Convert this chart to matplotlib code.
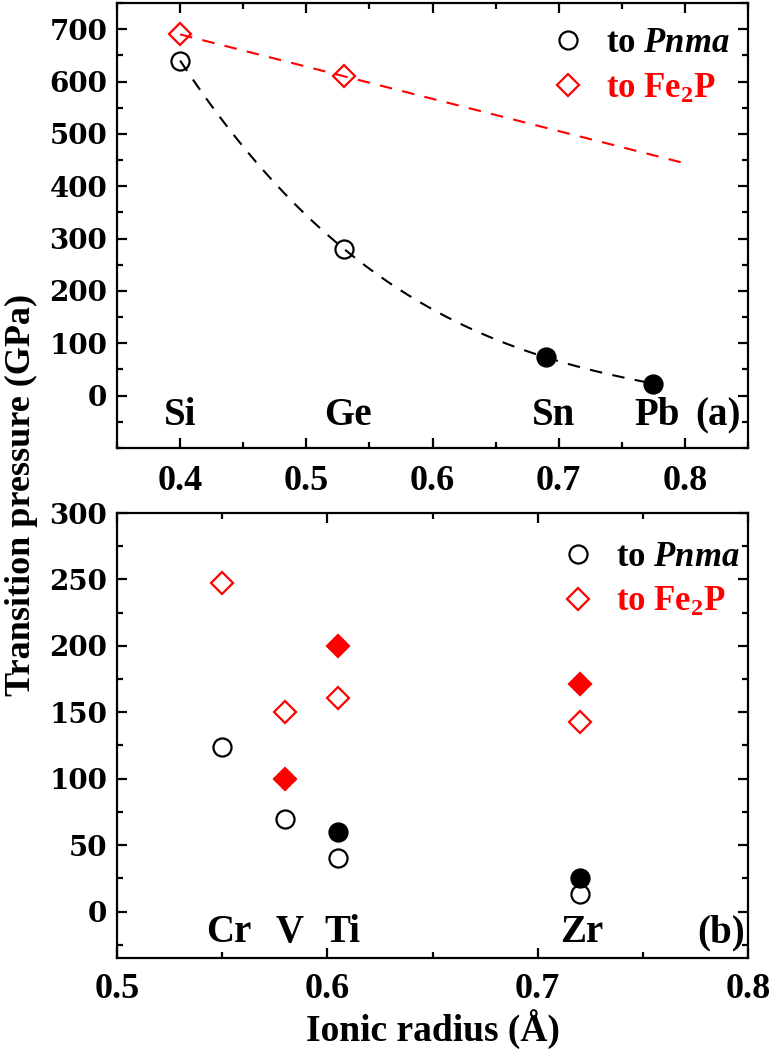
import numpy as np
import matplotlib
matplotlib.use('Agg')
import matplotlib.pyplot as plt
from matplotlib.lines import Line2D
from matplotlib.ticker import MultipleLocator, FixedLocator, FormatStrFormatter

plt.rcParams['font.family'] = ['Liberation Serif', 'DejaVu Serif']
plt.rcParams['font.weight'] = 'bold'
plt.rcParams['mathtext.fontset'] = 'custom'
plt.rcParams['mathtext.rm'] = 'Liberation Serif:bold'
plt.rcParams['mathtext.it'] = 'Liberation Serif:italic:bold'
plt.rcParams['mathtext.bf'] = 'Liberation Serif:bold'

# ---------------- data: panel (a) ----------------
a_elements = ['Si', 'Ge', 'Sn', 'Pb']
a_radius = [0.40, 0.53, 0.69, 0.775]
a_pnma = [640, 280, 73, 23]
a_pnma_filled = [False, False, True, True]
a_fe2p_radius = [0.40, 0.53]
a_fe2p = [690, 610]
a_fe2p_extrap_to = 0.80
a_label_x = [0.40, 0.533, 0.696, 0.778]
a_yticks = [0, 100, 200, 300, 400, 500, 600, 700]

# ---------------- data: panel (b) ----------------
b_elements = ['Cr', 'V', 'Ti', 'Zr']
b_radius = [0.55, 0.58, 0.605, 0.72]
b_pnma_open = [124, 70, 40, 13]
b_pnma_filled = [np.nan, np.nan, 60, 25]
b_fe2p_open = [247, 150, 161, 143]
b_fe2p_filled = [np.nan, 100, 200, 171]
b_label_x = [0.553, 0.582, 0.607, 0.721]
b_yticks = [0, 50, 100, 150, 200, 250, 300]

RED = '#ff0000'
W, H = 772, 1054
fig = plt.figure(figsize=(W / 100, H / 100), dpi=100)

def frac(l, t, r, b):
    return [l / W, 1 - b / H, (r - l) / W, (b - t) / H]

axA = fig.add_axes(frac(117, 3, 748, 448))
axB = fig.add_axes(frac(117, 513, 748, 958))

dash = (0, (6, 5))
ms_c = 13
ms_d = 11.5
mew = 1.6

# panel (a) fits
coef = np.polyfit(a_radius, a_pnma, len(a_radius) - 1)
xs = np.linspace(a_radius[0], a_radius[-1], 200)
axA.plot(xs, np.polyval(coef, xs), color='black', lw=1.5, ls=dash, zorder=2)
lin = np.polyfit(a_fe2p_radius, a_fe2p, 1)
xr = np.linspace(a_fe2p_radius[0], a_fe2p_extrap_to, 50)
axA.plot(xr, np.polyval(lin, xr), color=RED, lw=1.5, ls=dash, zorder=2)

for x, y, f in zip(a_radius, a_pnma, a_pnma_filled):
    axA.plot(x, y, 'o', ms=ms_c, mec='black', mew=mew,
             mfc='black' if f else 'none', zorder=3)
axA.plot(a_fe2p_radius, a_fe2p, 'D', ms=ms_d, mec=RED, mew=mew, mfc='none',
         ls='none', zorder=3)

for name, x in zip(a_elements, a_label_x):
    axA.text(x, -57, name, ha='center', va='baseline', fontsize=28, fontweight='bold')
axA.text(0.826, -57, '(a)', ha='center', va='baseline', fontsize=28, fontweight='bold')

axA.set_xlim(0.35, 0.85)
axA.set_ylim(-100, 750)
axA.xaxis.set_major_locator(MultipleLocator(0.1))
axA.xaxis.set_minor_locator(MultipleLocator(0.05))
axA.yaxis.set_major_locator(FixedLocator(a_yticks))
axA.yaxis.set_minor_locator(MultipleLocator(50))

# panel (b)
axB.plot(b_radius, b_pnma_open, 'o', ms=ms_c, mec='black', mew=mew, mfc='none', ls='none', zorder=3)
axB.plot(b_radius, b_pnma_filled, 'o', ms=ms_c, mec='black', mew=mew, mfc='black', ls='none', zorder=3)
axB.plot(b_radius, b_fe2p_open, 'D', ms=ms_d, mec=RED, mew=mew, mfc='none', ls='none', zorder=3)
axB.plot(b_radius, b_fe2p_filled, 'D', ms=ms_d, mec=RED, mew=mew, mfc=RED, ls='none', zorder=3)

for name, x in zip(b_elements, b_label_x):
    axB.text(x, -23, name, ha='center', va='baseline', fontsize=28, fontweight='bold')
axB.text(0.787, -23, '(b)', ha='center', va='baseline', fontsize=28, fontweight='bold')

axB.set_xlim(0.5, 0.8)
axB.set_ylim(-35, 300)
axB.xaxis.set_major_locator(MultipleLocator(0.1))
axB.xaxis.set_minor_locator(MultipleLocator(0.05))
axB.yaxis.set_major_locator(FixedLocator(b_yticks))
axB.yaxis.set_minor_locator(MultipleLocator(25))

for ax, xpad in ((axA, 12), (axB, 11)):
    for s in ax.spines.values():
        s.set_linewidth(1.6)
    ax.tick_params(which='both', direction='in', top=True, right=True, width=1.6)
    ax.tick_params(which='major', length=7)
    ax.tick_params(which='minor', length=4)
    ax.tick_params(axis='x', which='major', pad=xpad, labelsize=26)
    ax.tick_params(axis='y', which='major', pad=7, labelsize=20)
    ax.xaxis.set_major_formatter(FormatStrFormatter('%.1f'))
    for lab in ax.get_xticklabels() + ax.get_yticklabels():
        lab.set_fontweight('bold')
    for lab in ax.get_yticklabels():
        lab.set_fontfamily(['DejaVu Serif'])

# legends
h1 = Line2D([], [], marker='o', ms=ms_c, mec='black', mew=mew, mfc='none', ls='none')
h2 = Line2D([], [], marker='D', ms=ms_d, mec=RED, mew=mew, mfc='none', ls='none')
for ax, anchor in ((axA, (1.01, 1.0)), (axB, (1.026, 0.992))):
    leg = ax.legend([h1, h2], ['to $Pnma$', 'to Fe$_2$P'], loc='upper right',
                    bbox_to_anchor=anchor, frameon=False, fontsize=25,
                    handlelength=1.0, handletextpad=0.6, labelspacing=0.35,
                    borderaxespad=0.3)
    txts = leg.get_texts()
    txts[0].set_color('black')
    txts[1].set_color(RED)
    for t in txts:
        t.set_fontweight('bold')

axB.set_xlabel('Ionic radius (Å)', fontsize=27, fontweight='bold', labelpad=2)
fig.text(21 / W, 1 - 495 / H, 'Transition pressure (GPa)', rotation=90,
         ha='center', va='center', fontsize=26, fontweight='bold')

fig.savefig('out.png', dpi=100)
